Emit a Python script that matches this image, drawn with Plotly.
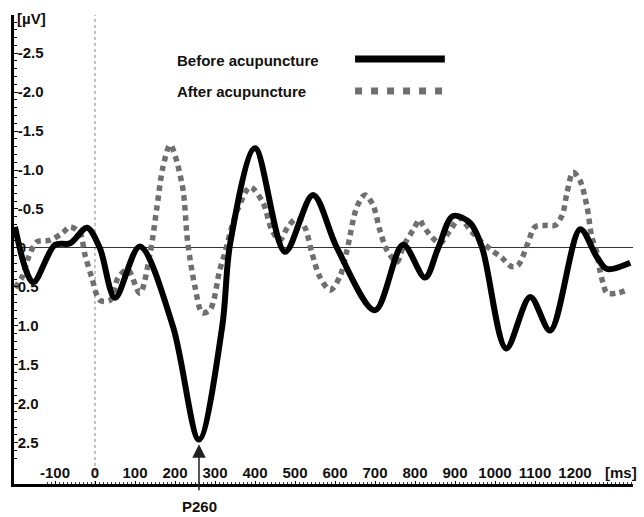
import plotly.graph_objects as go

# Time (ms) and amplitude (µV); negative is plotted upward
before_t = [-200, -155, -100, -62, -20, 12, 50, 112, 195, 260, 318, 338, 400, 475, 545, 605,
            700, 770, 825, 858, 895, 938, 968, 1028, 1088, 1138, 1213, 1255, 1280, 1338]
before_v = [-0.27, 0.44, -0.04, -0.06, -0.26, 0.0, 0.64, -0.02, 1.01, 2.46, 1.01, -0.06, -1.28,
            0.05, -0.68, 0.0, 0.8, -0.04, 0.38, 0.0, -0.41, -0.32, 0.0, 1.29, 0.63, 1.06,
            -0.24, 0.12, 0.27, 0.19]

after_t = [-200, -182, -167, -145, -112, -82, -62, -38, -25, -8, 12, 38, 58, 82, 112, 138, 155,
           170, 188, 218, 232, 250, 268, 288, 312, 325, 342, 358, 388, 420, 442, 462, 482, 505,
           525, 542, 562, 588, 612, 630, 655, 675, 695, 712, 730, 755, 770, 795, 812, 820, 842,
           862, 888, 912, 938, 962, 992, 1018, 1042, 1058, 1082, 1100, 1130, 1150, 1168, 1180,
           1195, 1212, 1230, 1242, 1255, 1262, 1270, 1280, 1305, 1330]
after_v = [0.51, 0.37, 0.13, -0.08, -0.10, -0.19, -0.27, -0.19, 0.09, 0.38, 0.67, 0.67, 0.38,
           0.28, 0.58, 0.06, -0.53, -1.04, -1.32, -0.81, -0.06, 0.5, 0.83, 0.79, 0.28, 0.06,
           -0.27, -0.51, -0.78, -0.58, -0.23, -0.1, -0.27, -0.38, -0.26, 0.06, 0.37, 0.54, 0.37,
           0.03, -0.53, -0.68, -0.55, -0.23, 0.03, 0.18, -0.01, -0.23, -0.36, -0.29, -0.14,
           -0.06, -0.23, -0.38, -0.23, -0.1, 0.03, 0.13, 0.24, 0.22, -0.06, -0.27, -0.29, -0.29,
           -0.42, -0.71, -0.97, -0.87, -0.53, -0.14, 0.06, 0.28, 0.45, 0.58, 0.58, 0.54]

x_tickvals = [-100, 0, 100, 200, 300, 400, 500, 600, 700, 800, 900, 1000, 1100, 1200]
x_ticktext = ["-100", "0", "100", "200", "300", "400", "500", "600", "700", "800", "900",
              "1000", "1100", "1200"]
y_tickvals = [-2.5, -2.0, -1.5, -1.0, -0.5, 0, 0.5, 1.0, 1.5, 2.0, 2.5]
y_ticktext = ["-2.5", "-2.0", "-1.5", "-1.0", "-0.5", "0", "0.5", "1.0", "1.5", "2.0", "2.5"]

peak_t, peak_v = 260, 2.46

FONT = "Liberation Sans, Arial, sans-serif"
fig = go.Figure()

fig.add_trace(go.Scatter(x=after_t, y=after_v, mode="lines",
                         line=dict(color="#6f6f6f", width=5.5, dash="5.5px,4.5px", shape="spline",
                                   smoothing=0.9),
                         name="After acupuncture", showlegend=False))
fig.add_trace(go.Scatter(x=before_t, y=before_v, mode="lines",
                         line=dict(color="#000000", width=6, shape="spline", smoothing=0.9),
                         name="Before acupuncture", showlegend=False))

# vertical dotted line at stimulus onset
fig.add_shape(type="line", x0=0, x1=0, y0=0, y1=1, xref="x", yref="paper",
              line=dict(color="#888888", width=1, dash="dot"), layer="below")

# legend drawn manually
fig.add_annotation(x=0.26, y=0.904, xref="paper", yref="paper", text="<b>Before acupuncture</b>",
                   showarrow=False, xanchor="left", yanchor="middle",
                   font=dict(family=FONT, size=15, color="#111"))
fig.add_annotation(x=0.26, y=0.836, xref="paper", yref="paper", text="<b>After acupuncture</b>",
                   showarrow=False, xanchor="left", yanchor="middle",
                   font=dict(family=FONT, size=15, color="#111"))
fig.add_shape(type="line", x0=0.551, x1=0.696, y0=0.906, y1=0.906, xref="paper", yref="paper",
              line=dict(color="#000", width=7))
fig.add_shape(type="line", x0=0.551, x1=0.696, y0=0.838, y1=0.838, xref="paper", yref="paper",
              line=dict(color="#6f6f6f", width=7, dash="7px,9px"))

# unit labels
fig.add_annotation(x=0.0, y=1.0, xref="paper", yref="paper", text="<b>[µV]</b>",
                   showarrow=False, xanchor="left", yanchor="middle", xshift=1, yshift=-3,
                   font=dict(family=FONT, size=15, color="#111"))
fig.add_annotation(x=1.0, y=0.0, xref="paper", yref="paper", text="<b>[ms]</b>",
                   showarrow=False, xanchor="right", yanchor="bottom", xshift=6, yshift=1,
                   font=dict(family=FONT, size=15, color="#111"))

# P260 arrow and label
fig.add_annotation(x=peak_t, y=2.52, xref="x", yref="y", ax=peak_t, ay=3.13, axref="x",
                   ayref="y", text="", showarrow=True, arrowhead=2, arrowsize=1.8,
                   arrowwidth=1.5, arrowcolor="#222")
fig.add_annotation(x=peak_t, y=-0.049, xref="x", yref="paper", text="<b>P260</b>",
                   showarrow=False, yanchor="middle",
                   font=dict(family=FONT, size=15, color="#111"))

fig.update_xaxes(range=[-202.5, 1345], tickvals=x_tickvals, ticktext=x_ticktext,
                 ticklabelposition="inside", ticks="inside", ticklen=3, tickcolor="#000",
                 showline=True, linecolor="#000", linewidth=2.5, showgrid=False, zeroline=False,
                 tickfont=dict(family=FONT, size=15, color="#111", weight="bold"),
                 minor=dict(ticks="inside", dtick=10, ticklen=2, tickcolor="#333", tickwidth=1,
                            showgrid=False))
fig.update_yaxes(range=[3.03, -2.99], tickvals=y_tickvals, ticktext=y_ticktext,
                 ticklabelposition="inside", ticks="inside", ticklen=4, tickcolor="#000",
                 showline=True, linecolor="#000", linewidth=2.5, showgrid=False,
                 zeroline=True, zerolinecolor="#333", zerolinewidth=1,
                 tickfont=dict(family=FONT, size=15, color="#111", weight="bold"),
                 minor=dict(ticks="inside", dtick=0.1, ticklen=3, tickcolor="#000", tickwidth=1,
                            showgrid=False))

fig.update_layout(width=644, height=517, margin=dict(l=14, r=11, t=15, b=33),
                  paper_bgcolor="white", plot_bgcolor="white", showlegend=False)

fig.write_html("out.html", config={"displayModeBar": False},
               post_script="document.body.style.margin='0';")
